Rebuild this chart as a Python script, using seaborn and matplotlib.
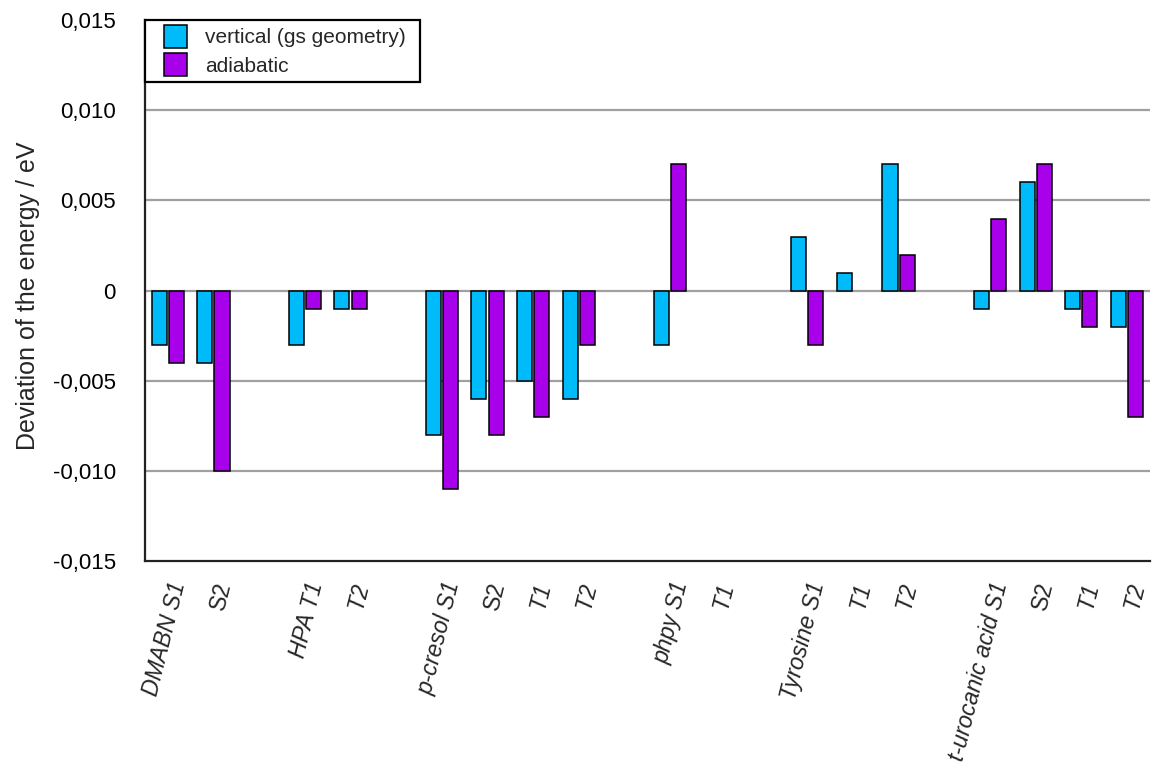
import numpy as np
import pandas as pd
import matplotlib
matplotlib.use("Agg")
import matplotlib.pyplot as plt
from matplotlib.patches import Patch, Rectangle
from matplotlib.legend_handler import HandlerPatch
from matplotlib.ticker import FuncFormatter, MultipleLocator
import seaborn as sns

# Excited states, in plotting order; empty strings are spacer slots between molecules
state_labels = ["DMABN S1", "S2", "",
                "HPA T1", "T2", "",
                "p-cresol S1", "S2", "T1", "T2", "",
                "phpy S1", "T1", "",
                "Tyrosine S1", "T1", "T2", "",
                "t-urocanic acid S1", "S2", "T1", "T2"]

# Energy deviations in eV (None for spacer slots)
vertical = [-0.003, -0.004, None,
            -0.003, -0.001, None,
            -0.008, -0.006, -0.005, -0.006, None,
            -0.003, 0.0, None,
            0.003, 0.001, 0.007, None,
            -0.001, 0.006, -0.001, -0.002]
adiabatic = [-0.004, -0.010, None,
             -0.001, -0.001, None,
             -0.011, -0.008, -0.007, -0.003, None,
             0.007, 0.0, None,
             -0.003, 0.0, 0.002, None,
             0.004, 0.007, -0.002, -0.007]

series_names = ["vertical (gs geometry)", "adiabatic"]
colors = ["#00BBF9", "#A800EB"]

slot_keys = [f"slot{i:02d}" for i in range(len(state_labels))]
rows = []
for key, v, a in zip(slot_keys, vertical, adiabatic):
    if v is not None:
        rows.append({"slot": key, "series": series_names[0], "value": v})
    if a is not None:
        rows.append({"slot": key, "series": series_names[1], "value": a})
df = pd.DataFrame(rows)

sns.set_theme(style="white")
plt.rcParams["font.family"] = ["Liberation Sans", "DejaVu Sans"]

fig = plt.figure(figsize=(11.55, 7.73), dpi=100)
ax = fig.add_axes([0.1255, 0.274, 0.8700, 0.700])

sns.barplot(data=df, x="slot", y="value", hue="series", order=slot_keys,
            hue_order=series_names, palette=colors, width=0.75, gap=0.12,
            edgecolor="black", linewidth=1.1, saturation=1, ax=ax,
            legend=False)

# zero-valued bars leave no visible mark
for p in ax.patches:
    if abs(p.get_height()) < 1e-12:
        p.set_linewidth(0)

ax.set_xlim(-0.5, len(slot_keys) - 0.5)
ax.set_ylim(-0.015, 0.015)
ax.yaxis.set_major_locator(MultipleLocator(0.005))

def fmt(v, _):
    if abs(v) < 1e-12:
        return "0"
    return f"{v:.3f}".replace(".", ",")

ax.yaxis.set_major_formatter(FuncFormatter(fmt))

# horizontal grid only at interior ticks
for y in [-0.010, -0.005, 0.0, 0.005, 0.010]:
    ax.axhline(y, color="#A0A0A0", linewidth=1.6, zorder=0)

for side in ["top", "right"]:
    ax.spines[side].set_visible(False)
for side in ["left", "bottom"]:
    ax.spines[side].set_color("#222222")
    ax.spines[side].set_linewidth(1.6)

ax.tick_params(axis="y", length=0, labelsize=16, pad=21, colors="black")
ax.tick_params(axis="x", length=0, pad=13)

ax.set_xticks(range(len(slot_keys)))
ax.set_xticklabels(state_labels, rotation=76, ha="right", va="top",
                   rotation_mode="anchor", fontsize=16.5)
for lbl in ax.get_xticklabels():
    if lbl.get_text() != "S2":
        lbl.set_fontstyle("italic")

ax.set_xlabel("")
ax.set_ylabel("Deviation of the energy / eV", fontsize=18)
ax.yaxis.set_label_coords(-0.104, 0.49)


def square_handle(legend, orig_handle, xdescent, ydescent, width, height, fontsize):
    side = 16.5
    return Rectangle((-xdescent + width - side, -ydescent + (height - side) / 2),
                     side, side)


handles = [Patch(facecolor=c, edgecolor="black", linewidth=1.1) for c in colors]
leg = ax.legend(handles, series_names, loc="upper left",
                bbox_to_anchor=(0, 1, 275 / 1005, 0), mode="expand",
                borderaxespad=0, fontsize=15, frameon=True, fancybox=False,
                handlelength=1.7, handleheight=1.1, handletextpad=0.9,
                labelspacing=0.35, borderpad=0.3,
                handler_map={Patch: HandlerPatch(patch_func=square_handle)})
frame = leg.get_frame()
frame.set_edgecolor("black")
frame.set_linewidth(1.6)
frame.set_facecolor("white")
frame.set_alpha(1)

fig.savefig("out.png", dpi=100)
